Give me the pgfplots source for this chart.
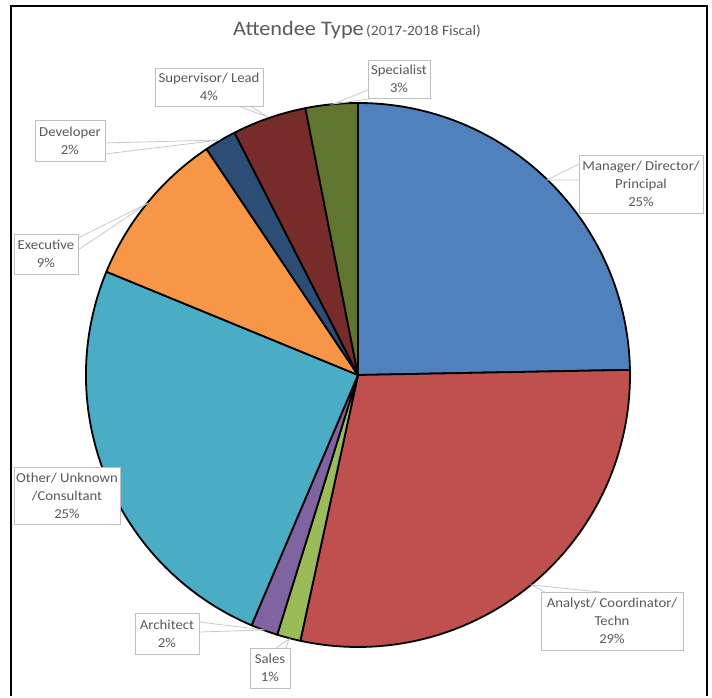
\documentclass[border=0pt]{standalone}
\usepackage{fontspec}
\setmainfont{Carlito}[FakeStretch=1.08]
\usepackage{pgfplots}
\usepackage{pgfplotstable}
\pgfplotsset{compat=1.18}
\definecolor{pc0}{HTML}{4F81BD}
\definecolor{pc1}{HTML}{C0504D}
\definecolor{pc2}{HTML}{9BBB59}
\definecolor{pc3}{HTML}{8064A2}
\definecolor{pc4}{HTML}{4BACC6}
\definecolor{pc5}{HTML}{F79646}
\definecolor{pc6}{HTML}{2C4D75}
\definecolor{pc7}{HTML}{772C2A}
\definecolor{pc8}{HTML}{5F7530}
\definecolor{txtgray}{HTML}{595959}
\definecolor{boxgray}{HTML}{BFBFBF}
\definecolor{leadgray}{HTML}{C8C8C8}

\pgfplotstableread{
label value
Manager 24.7
Analyst 28.7
Sales 1.4
Architect 1.6
Other 24.8
Executive 9.4
Developer 1.9
Supervisor 4.4
Specialist 3.1
}\pietable

\begin{document}
\begin{tikzpicture}[
  lbl/.style={draw=boxgray, fill=white, line width=0.8bp, align=center,
    font=\fontsize{13.7}{18}\selectfont, text=txtgray, inner sep=0pt},
  lead/.style={draw=leadgray, line width=0.8bp}
]
\xdef\cum{90}
\foreach \i in {0,...,8}{%
  \pgfplotstablegetelem{\i}{value}\of\pietable
  \pgfmathsetmacro\tmpa{\cum}%
  \pgfmathsetmacro\tmpb{\cum-3.6*\pgfplotsretval}%
  \expandafter\xdef\csname sa\i\endcsname{\tmpa}%
  \expandafter\xdef\csname ea\i\endcsname{\tmpb}%
  \xdef\cum{\tmpb}%
}
\begin{axis}[
  width=712bp, height=694bp, scale only axis,
  xmin=0, xmax=712, ymin=0, ymax=694,
  axis lines=none, clip=false, enlargelimits=false
]
\path (axis cs:0,0) rectangle (axis cs:712,694);
% frame
\draw[line width=2.5bp, black] (axis cs:11,-2) -- (axis cs:11,688) -- (axis cs:707,688) -- (axis cs:707,-2);
% title
\node[text=txtgray, anchor=center] at (axis cs:357,664)
  {{\fontsize{20.7}{24}\selectfont Attendee Type} {\fontsize{14.4}{16}\selectfont (2017-2018 Fiscal)}};
% pie slices
\pgfplotsinvokeforeach{0,...,8}{
  \filldraw[fill=pc#1, draw=black, line width=1.8bp, line join=round]
    (axis cs:358,319) -- ++(\csname sa#1\endcsname:272bp)
    arc[start angle=\csname sa#1\endcsname, end angle=\csname ea#1\endcsname, radius=272bp] -- cycle;
}
% leaders
\draw[lead] (axis cs:368,604) -- (axis cs:333,590) -- (axis cs:376,596);
\draw[lead] (axis cs:238,588) -- (axis cs:268,577) -- (axis cs:250,588);
\draw[lead] (axis cs:105,551) -- (axis cs:220,554) -- (axis cs:105,540);
\draw[lead] (axis cs:78,456) -- (axis cs:148,491) -- (axis cs:78,444);
\draw[lead] (axis cs:579,530) -- (axis cs:547,514) -- (axis cs:579,514);
\draw[lead] (axis cs:545,102) -- (axis cs:532,109) -- (axis cs:600,102);
\draw[lead] (axis cs:199,72) -- (axis cs:265,64) -- (axis cs:199,62);
\draw[lead] (axis cs:276,46) -- (axis cs:289,55) -- (axis cs:286,46);
% labels
\node[lbl, minimum width=62bp, minimum height=38bp] at (axis cs:399,615) {Specialist\\3\%};
\node[lbl, minimum width=108bp, minimum height=38bp] at (axis cs:209,607) {Supervisor/ Lead\\4\%};
\node[lbl, minimum width=70bp, minimum height=41bp] at (axis cs:70,553) {Developer\\2\%};
\node[lbl, minimum width=64bp, minimum height=40bp] at (axis cs:46,440) {Executive\\9\%};
\node[lbl, minimum width=124bp, minimum height=58bp] at (axis cs:641,510) {Manager/ Director/\\Principal\\25\%};
\node[lbl, minimum width=106bp, minimum height=57bp] at (axis cs:67,198.5) {Other/ Unknown\\/Consultant\\25\%};
\node[lbl, minimum width=64bp, minimum height=41bp] at (axis cs:167,60.5) {Architect\\2\%};
\node[lbl, minimum width=40bp, minimum height=40bp] at (axis cs:270,26) {Sales\\1\%};
\node[lbl, minimum width=142bp, minimum height=58bp] at (axis cs:612,73) {Analyst/ Coordinator/\\Techn\\29\%};
\end{axis}
\end{tikzpicture}
\end{document}
